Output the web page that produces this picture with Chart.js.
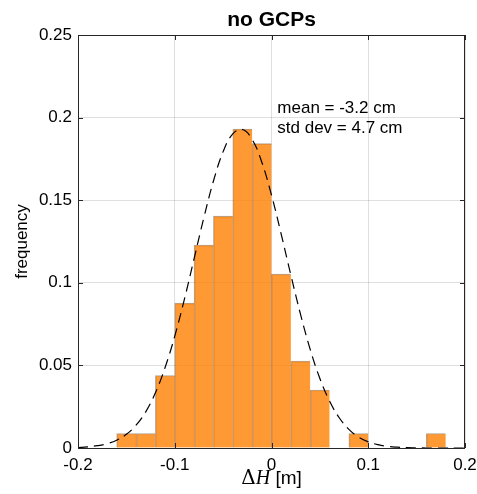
<!DOCTYPE html>
<html>
<head>
<meta charset="utf-8">
<script src="https://cdn.jsdelivr.net/npm/chart.js@4/dist/chart.umd.min.js"></script>
<style>
  html, body { margin: 0; padding: 0; background: #fff; }
  #wrap { width: 477px; height: 494px; }
</style>
</head>
<body>
<div id="wrap"><canvas id="histChart" width="477" height="494"></canvas></div>
<script>
// 直方圖的區間中心 (m)
const binCenters = [-0.15, -0.13, -0.11, -0.09, -0.07, -0.05, -0.03, -0.01, 0.01, 0.03, 0.05, 0.07, 0.09, 0.11, 0.13, 0.15, 0.17];
// 各區間的頻率
const binFreq = [0.0088, 0.0088, 0.0439, 0.0877, 0.1228, 0.1404, 0.1930, 0.1842, 0.1053, 0.0526, 0.0351, 0, 0.0088, 0, 0, 0, 0.0088];
// 虛線常態曲線的取樣點
const curveX = [-0.20, -0.19, -0.18, -0.17, -0.16, -0.15, -0.14, -0.13, -0.12, -0.11, -0.10, -0.09, -0.08, -0.07, -0.06, -0.05, -0.04, -0.03, -0.02, -0.01,
                0.00, 0.01, 0.02, 0.03, 0.04, 0.05, 0.06, 0.07, 0.08, 0.09, 0.10, 0.11, 0.12, 0.13, 0.14, 0.15, 0.16, 0.17, 0.18, 0.19, 0.20];
const curveY = [0.0003, 0.0007, 0.0014, 0.0026, 0.0047, 0.0083, 0.0138, 0.0219, 0.0334, 0.0487, 0.0677, 0.0901, 0.1146, 0.1392, 0.1616, 0.1794, 0.1902, 0.1928, 0.1868, 0.1730,
                0.1531, 0.1295, 0.1047, 0.0809, 0.0597, 0.0421, 0.0284, 0.0183, 0.0113, 0.0066, 0.0037, 0.0020, 0.0010, 0.0005, 0.0002, 0.0001, 0, 0, 0, 0, 0];
// 刻度
const xTicks = [-0.2, -0.1, 0, 0.1, 0.2];
const yTicks = [0, 0.05, 0.1, 0.15, 0.2, 0.25];
// 文字
const chartTitle = 'no GCPs';
const statLines = ['mean = -3.2 cm', 'std dev = 4.7 cm'];
const yLabel = 'frequency';

const sansFont = "'Liberation Sans', Arial, Helvetica, sans-serif";

// 外框、內向刻度、標題與文字註解
const decorPlugin = {
    id: 'decor',
    afterDatasetsDraw(chart) {
        const { ctx, chartArea: a, scales: { x, y } } = chart;
        ctx.save();
        // 外框
        ctx.strokeStyle = '#262626';
        ctx.lineWidth = 1;
        ctx.strokeRect(Math.round(a.left) + 0.5, Math.round(a.top) + 0.5, Math.round(a.right - a.left) - 1, Math.round(a.bottom - a.top));
        // 內向刻度
        ctx.beginPath();
        xTicks.forEach(v => {
            const px = Math.round(x.getPixelForValue(v)) + 0.5;
            ctx.moveTo(px, a.bottom); ctx.lineTo(px, a.bottom - 5);
            ctx.moveTo(px, a.top); ctx.lineTo(px, a.top + 5);
        });
        yTicks.forEach(v => {
            const py = Math.round(y.getPixelForValue(v)) + 0.5;
            ctx.moveTo(a.left, py); ctx.lineTo(a.left + 5, py);
            ctx.moveTo(a.right, py); ctx.lineTo(a.right - 5, py);
        });
        ctx.stroke();

        // 統計文字
        ctx.fillStyle = '#000';
        ctx.font = `17px ${sansFont}`;
        ctx.textAlign = 'left';
        ctx.textBaseline = 'middle';
        const tx = x.getPixelForValue(0.006);
        statLines.forEach((t, i) => ctx.fillText(t, tx, 108 + i * 20));

        // 標題
        ctx.font = `bold 21px ${sansFont}`;
        ctx.textAlign = 'center';
        ctx.fillText(chartTitle, (a.left + a.right) / 2, 20);

        // X 軸標題: ΔH [m]
        const parts = [
            { t: 'Δ', f: "20px 'DejaVu Serif', 'Liberation Serif', serif" },
            { t: 'H', f: "italic 20px 'Liberation Serif', 'DejaVu Serif', serif" },
            { t: ' [m]', f: `19px ${sansFont}` }
        ];
        let total = 0;
        parts.forEach(p => { ctx.font = p.f; p.w = ctx.measureText(p.t).width; total += p.w; });
        let cx = (a.left + a.right) / 2 - total / 2;
        ctx.textAlign = 'left';
        parts.forEach(p => { ctx.font = p.f; ctx.fillText(p.t, cx, 479); cx += p.w; });
        ctx.restore();
    }
};

const ctx = document.getElementById('histChart').getContext('2d');
const histChart = new Chart(ctx, {
    type: 'bar',
    data: {
        datasets: [
            {
                type: 'line',
                data: curveX.map((v, i) => ({ x: v, y: curveY[i] })),
                borderColor: '#000',
                borderWidth: 1.2,
                borderDash: [10, 6],
                pointRadius: 0,
                tension: 0.4,
                fill: false,
                order: 0
            },
            {
                data: binCenters.map((v, i) => ({ x: v, y: binFreq[i] })),
                backgroundColor: 'rgba(255, 128, 0, 0.8)',
                borderColor: 'rgba(90, 50, 10, 0.45)',
                borderWidth: { top: 1, left: 1, right: 0, bottom: 0 },
                borderSkipped: false,
                barPercentage: 1,
                categoryPercentage: 1,
                order: 1
            }
        ]
    },
    options: {
        responsive: false,
        devicePixelRatio: 1,
        animation: false,
        layout: { padding: { top: 35, right: 12, left: 0, bottom: 0 } },
        plugins: { legend: { display: false }, tooltip: { enabled: false } },
        scales: {
            x: {
                type: 'linear',
                min: -0.2,
                max: 0.2,
                offset: false,
                afterFit: s => { s.height = 46; s.paddingLeft = 0; s.paddingRight = 0; },
                afterBuildTicks: s => { s.ticks = xTicks.map(v => ({ value: v })); },
                ticks: {
                    color: '#000',
                    padding: 7,
                    font: { size: 17, family: sansFont },
                    callback: v => String(+v.toFixed(2)),
                    maxRotation: 0
                },
                grid: { color: 'rgba(38, 38, 38, 0.15)', drawTicks: false, offset: false },
                border: { display: false }
            },
            y: {
                min: 0,
                max: 0.25,
                afterFit: s => { s.width = 78; s.paddingTop = 0; s.paddingBottom = 0; },
                afterBuildTicks: s => { s.ticks = yTicks.map(v => ({ value: v })); },
                ticks: {
                    color: '#000',
                    padding: 6,
                    font: { size: 17, family: sansFont },
                    callback: v => String(+v.toFixed(2))
                },
                grid: { color: 'rgba(38, 38, 38, 0.15)', drawTicks: false },
                border: { display: false },
                title: {
                    display: true,
                    text: yLabel,
                    color: '#000',
                    font: { size: 17, family: sansFont },
                    padding: { top: 12, bottom: 0 }
                }
            }
        }
    },
    plugins: [decorPlugin]
});
</script>
</body>
</html>
